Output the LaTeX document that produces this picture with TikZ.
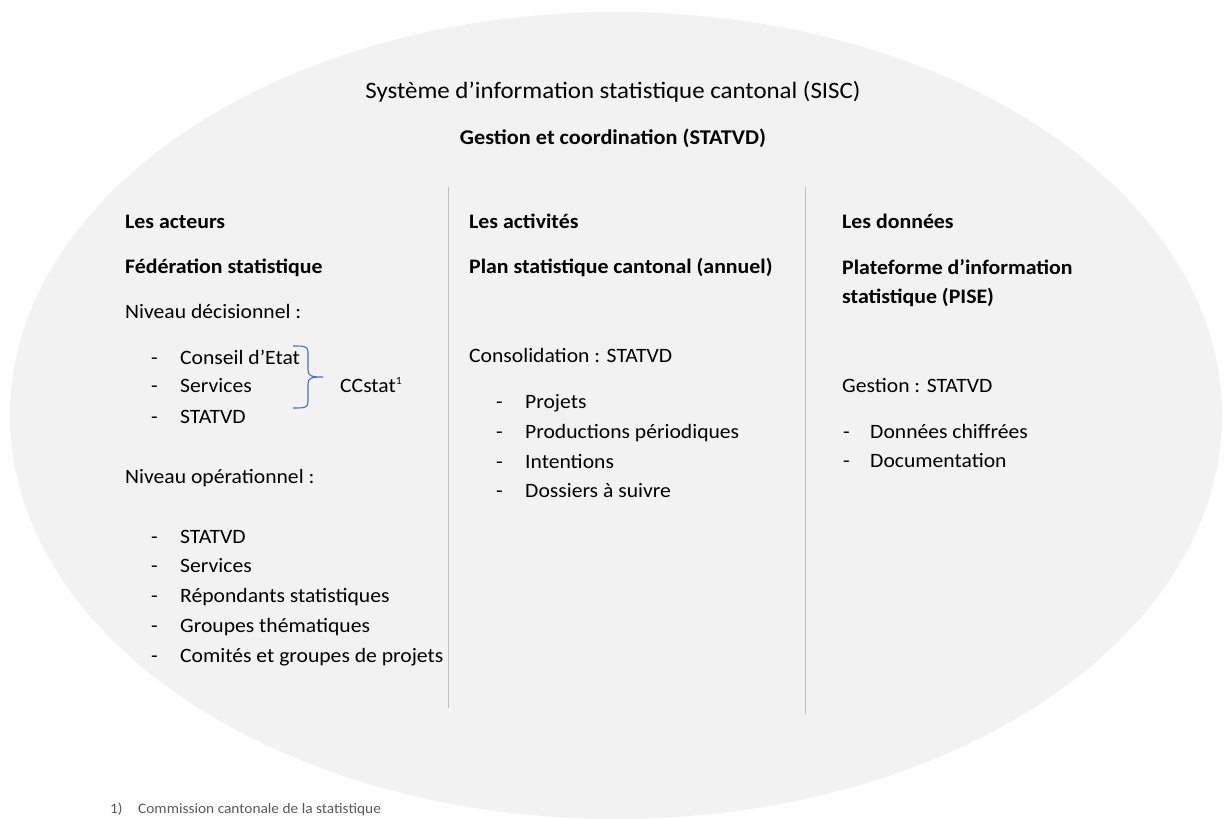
\documentclass[tikz,border=0pt]{standalone}
\usepackage{fontspec}
\setmainfont{Carlito}[FakeStretch=1.06]
\begin{document}
\begin{tikzpicture}[x=1pt,y=-1pt,
  txt/.style={anchor=base west,inner sep=0pt,font=\fontsize{20.4}{24}\selectfont,text=black},
  bld/.style={txt,font=\fontsize{20.6}{24}\selectfont\bfseries},
  sep/.style={draw=black!25,line width=1pt},
  foot/.style={anchor=base west,inner sep=0pt,font=\fontsize{14.5}{17}\selectfont,text=black!65}]
\useasboundingbox (0,0) rectangle (1224,819);
\fill[black!5] (616,415.5) ellipse [x radius=606, y radius=403.5];
% titles
\node[anchor=base,inner sep=0pt,font=\fontsize{23.5}{28}\selectfont] (title) at (613,98) {Système d’information statistique cantonal (SISC)};
\node[anchor=base,inner sep=0pt,font=\fontsize{21}{25}\selectfont\bfseries] (gest) at (613,144) {Gestion et coordination (STATVD)};
% separators
\draw[sep] (448,187) coordinate (s1a) -- (448,708) coordinate (s1b);
\draw[sep] (805,187) coordinate (s2a) -- (805,714) coordinate (s2b);
% column 1
\node[bld] (c1h) at (125,228) {Les acteurs};
\node[bld] (c1t) at (125,273) {Fédération statistique};
\node[txt] (c1n) at (125,318) {Niveau décisionnel :};
\node[txt] (d1) at (151,364) {-};
\node[txt] (a1) at (180,364) {Conseil d’Etat};
\node[txt] (d2) at (151,392) {-};
\node[txt] (a2) at (180,392) {Services};
\node[txt] (d3) at (151,423) {-};
\node[txt] (a3) at (180,423) {STATVD};
\draw[draw={rgb,255:red,68;green,114;blue,196},line width=1.1pt]
  (293,346) .. controls (304,346) and (308,346) .. (308,352)
  -- (308,370) .. controls (308,376) and (311,377) .. (323,377)
  (323,377) .. controls (311,377) and (308,378) .. (308,384)
  -- (308,402) .. controls (308,408) and (304,408) .. (293,408);
\node[txt] (cc) at (340,392) {CCstat\textsuperscript{\fontsize{11}{12}\selectfont 1}};
\node[txt] (c1o) at (125,483) {Niveau opérationnel :};
\node[txt] (e1) at (151,543) {-};
\node[txt] (b1) at (180,543) {STATVD};
\node[txt] (e2) at (151,572) {-};
\node[txt] (b2) at (180,572) {Services};
\node[txt] (e3) at (151,602) {-};
\node[txt] (b3) at (180,602) {Répondants statistiques};
\node[txt] (e4) at (151,632) {-};
\node[txt] (b4) at (180,632) {Groupes thématiques};
\node[txt] (e5) at (151,662) {-};
\node[txt] (b5) at (180,662) {Comités et groupes de projets};
% column 2
\node[bld] (c2h) at (469,228) {Les activités};
\node[bld] (c2t) at (469,273) {Plan statistique cantonal (annuel)};
\node[txt] (c2c) at (469,362) {Consolidation : STATVD};
\node[txt] (f1) at (496,408) {-};
\node[txt] (g1) at (525,408) {Projets};
\node[txt] (f2) at (496,438) {-};
\node[txt] (g2) at (525,438) {Productions périodiques};
\node[txt] (f3) at (496,468) {-};
\node[txt] (g3) at (525,468) {Intentions};
\node[txt] (f4) at (496,497) {-};
\node[txt] (g4) at (525,497) {Dossiers à suivre};
% column 3
\node[bld] (c3h) at (842,228) {Les données};
\node[bld] (c3t) at (842,274) {Plateforme d’information};
\node[bld] (c3u) at (842,303) {statistique (PISE)};
\node[txt] (c3g) at (842,392) {Gestion : STATVD};
\node[txt] (h1) at (843,438) {-};
\node[txt] (k1) at (870,438) {Données chiffrées};
\node[txt] (h2) at (843,467) {-};
\node[txt] (k2) at (870,467) {Documentation};
% footnote
\node[foot] (fn1) at (110,813) {1)};
\node[foot] (fn2) at (138,813) {Commission cantonale de la statistique};
\end{tikzpicture}
\end{document}
